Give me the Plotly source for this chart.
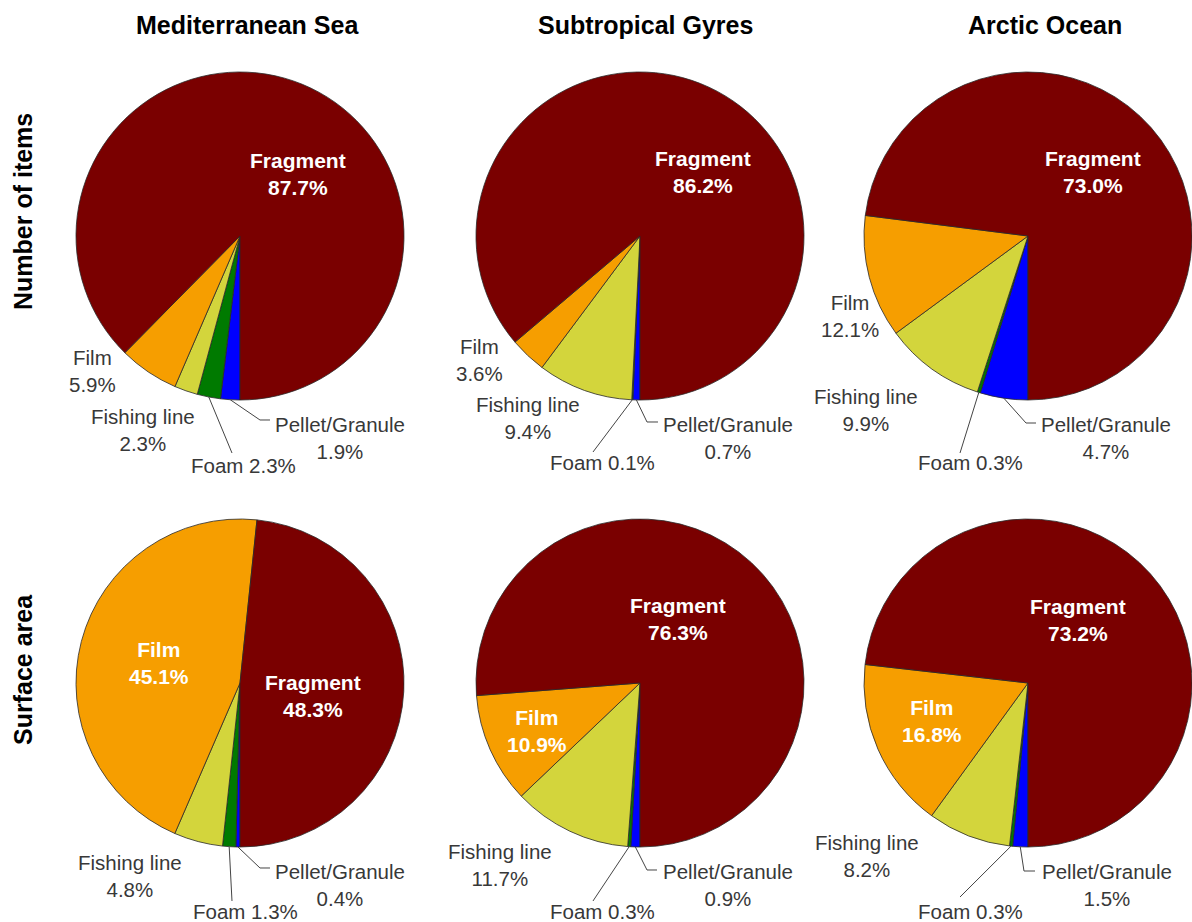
import math
import plotly.graph_objects as go

# ---------------- data ----------------
categories = ["Fragment", "Film", "Fishing line", "Foam", "Pellet/Granule"]
regions = ["Mediterranean Sea", "Subtropical Gyres", "Arctic Ocean"]
measures = ["Number of items", "Surface area"]

items_mediterranean = [87.7, 5.9, 2.3, 2.3, 1.9]
items_gyres = [86.2, 3.6, 9.4, 0.1, 0.7]
items_arctic = [73.0, 12.1, 9.9, 0.3, 4.7]

area_mediterranean = [48.3, 45.1, 4.8, 1.3, 0.4]
area_gyres = [76.3, 10.9, 11.7, 0.3, 0.9]
area_arctic = [73.2, 16.8, 8.2, 0.3, 1.5]

# ---------------- style / layout ----------------
W, H = 1192, 922
R = 164
col_cx = [240, 640, 1028]
row_cy = [236, 683]
title_x = [247, 645, 1045]

colors = {
    "Fragment": "#7a0000",
    "Film": "#f69e00",
    "Fishing line": "#d3d53c",
    "Foam": "#007a00",
    "Pellet/Granule": "#0000ff",
}
FONT = "Liberation Sans, Arial, sans-serif"
LABEL_COLOR = "#383838"

datasets = [
    [items_mediterranean, items_gyres, items_arctic],
    [area_mediterranean, area_gyres, area_arctic],
]

# label placement (pixel offsets from pie centre); inside -> white bold
# leader: waypoints after the slice-edge anchor (offsets from centre)
label_layout = [
    [  # Number of items
        {
            "Fragment": dict(d=(58, -62), inside=True),
            "Film": dict(d=(-148, 135)),
            "Fishing line": dict(d=(-97, 194)),
            "Foam": dict(d=(3, 229), single=True, leader=[(-8, 217)]),
            "Pellet/Granule": dict(d=(100, 202), leader=[(20, 184), (30, 184)]),
        },
        {
            "Fragment": dict(d=(63, -64), inside=True),
            "Film": dict(d=(-160, 124)),
            "Fishing line": dict(d=(-112, 182)),
            "Foam": dict(d=(-38, 227), single=True, leader=[(-47, 216)]),
            "Pellet/Granule": dict(d=(88, 202), leader=[(7, 186), (18, 186)]),
        },
        {
            "Fragment": dict(d=(65, -64), inside=True),
            "Film": dict(d=(-178, 80)),
            "Fishing line": dict(d=(-162, 174)),
            "Foam": dict(d=(-58, 227), single=True, leader=[(-68, 217)]),
            "Pellet/Granule": dict(d=(78, 202), leader=[(-2, 187), (8, 187)]),
        },
    ],
    [  # Surface area
        {
            "Fragment": dict(d=(73, 13), inside=True),
            "Film": dict(d=(-81, -20), inside=True),
            "Fishing line": dict(d=(-110, 193)),
            "Foam": dict(d=(5, 228), single=True, leader=[(-8, 218)]),
            "Pellet/Granule": dict(d=(100, 202), leader=[(20, 185), (30, 185)]),
        },
        {
            "Fragment": dict(d=(38, -64), inside=True),
            "Film": dict(d=(-103, 48), inside=True),
            "Fishing line": dict(d=(-140, 182)),
            "Foam": dict(d=(-38, 228), single=True, leader=[(-47, 218)]),
            "Pellet/Granule": dict(d=(88, 202), leader=[(7, 187), (17, 187)]),
        },
        {
            "Fragment": dict(d=(50, -63), inside=True),
            "Film": dict(d=(-96, 38), inside=True),
            "Fishing line": dict(d=(-161, 173)),
            "Foam": dict(d=(-58, 228), single=True, leader=[(-68, 214)]),
            "Pellet/Granule": dict(d=(79, 202), leader=[(-4, 188), (7, 188)]),
        },
    ],
]


def px(x):
    return x / W


def py(y):
    return 1 - y / H


fig = go.Figure()
annotations = []
shapes = []

for r in range(2):
    for c in range(3):
        vals = datasets[r][c]
        cx, cy = col_cx[c], row_cy[r]
        order = categories[::-1]          # drawn clockwise from 6 o'clock
        ordered_vals = vals[::-1]
        fig.add_trace(go.Pie(
            labels=order,
            values=ordered_vals,
            sort=False,
            direction="clockwise",
            rotation=180,
            marker=dict(colors=[colors[k] for k in order],
                        line=dict(color="#2a2a2a", width=0.8)),
            textinfo="none",
            hoverinfo="label+value",
            showlegend=False,
            domain=dict(x=[px(cx - R), px(cx + R)], y=[py(cy + R), py(cy - R)]),
        ))

        # slice mid-angles (clockwise from north) computed from the data
        total = sum(ordered_vals)
        cum = 0.0
        mid_angle = {}
        for name, v in zip(order, ordered_vals):
            mid_angle[name] = 180 + 360 * (cum + v / 2) / total
            cum += v

        for name, v in zip(categories, vals):
            spec = label_layout[r][c][name]
            dx, dy = spec["d"]
            inside = spec.get("inside", False)
            if spec.get("single"):
                text = f"{name} {v:.1f}%"
            else:
                text = f"{name}<br>{v:.1f}%"
            if inside:
                text = f"<b>{text}</b>"
            annotations.append(dict(
                x=px(cx + dx), y=py(cy + dy), xref="paper", yref="paper",
                text=text, showarrow=False, xanchor="center", yanchor="middle",
                align="center",
                font=dict(family=FONT, size=21 if inside else 20.5,
                          color="white" if inside else LABEL_COLOR),
            ))
            if "leader" in spec:
                th = math.radians(mid_angle[name])
                pts = [(cx + R * math.sin(th), cy - R * math.cos(th))]
                pts += [(cx + ox, cy + oy) for ox, oy in spec["leader"]]
                path = "M " + " L ".join(f"{px(x):.5f},{py(y):.5f}" for x, y in pts)
                shapes.append(dict(type="path", xref="paper", yref="paper", path=path,
                                   line=dict(color="#444444", width=1)))

# column titles
for c, name in enumerate(regions):
    annotations.append(dict(
        x=px(title_x[c]), y=py(25), xref="paper", yref="paper",
        text=f"<b>{name}</b>", showarrow=False, xanchor="center", yanchor="middle",
        font=dict(family=FONT, size=25, color="black"),
    ))

# row titles
row_title_y = [212, 670]
for r, name in enumerate(measures):
    annotations.append(dict(
        x=px(23), y=py(row_title_y[r]), xref="paper", yref="paper",
        text=f"<b>{name}</b>", showarrow=False, xanchor="center", yanchor="middle",
        textangle=-90,
        font=dict(family=FONT, size=25, color="black"),
    ))

fig.update_layout(
    width=W, height=H,
    margin=dict(l=0, r=0, t=0, b=0),
    paper_bgcolor="white", plot_bgcolor="white",
    annotations=annotations, shapes=shapes,
    font=dict(family=FONT),
)

fig.write_html("out.html",
               config={"displayModeBar": False},
               post_script="document.body.style.margin='0';document.body.style.overflow='hidden';")
